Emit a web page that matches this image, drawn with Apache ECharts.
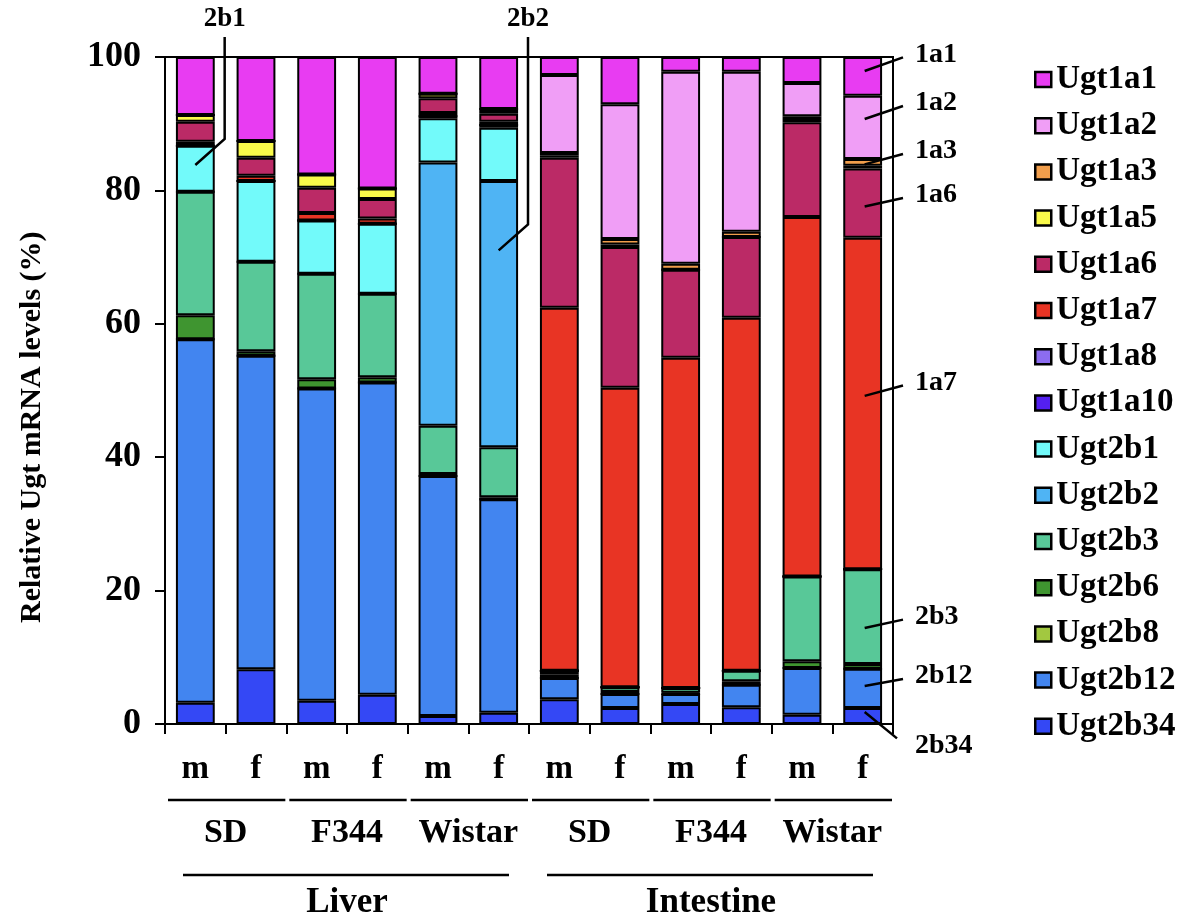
<!DOCTYPE html>
<html><head><meta charset="utf-8">
<script src="https://cdn.jsdelivr.net/npm/echarts@6/dist/echarts.min.js"></script>
<style>html,body{margin:0;padding:0;background:#fff}#c{width:1187px;height:920px}</style>
</head><body><div id="c"></div>
<script>
// ---- data ----
const sexLabels = ['m','f','m','f','m','f','m','f','m','f','m','f'];
const strainLabels = ['SD','F344','Wistar','SD','F344','Wistar'];
const tissueLabels = ['Liver','Intestine'];
const yAxisTitle = 'Relative Ugt mRNA levels (%)';
const yMin = 0, yMax = 100, yInterval = 20;

const ugt1a1  = [8.7, 12.6, 17.6, 19.7, 5.5, 7.8, 2.7, 7.1, 2.2, 2.2, 3.9, 5.8];
const ugt1a2  = [0, 0, 0, 0, 0, 0, 11.7, 20.2, 28.8, 24.0, 5.0, 9.5];
const ugt1a3  = [0, 0, 0, 0, 0, 0.3, 0.4, 0.8, 0.9, 0.8, 0.4, 1.0];
const ugt1a5  = [1.0, 2.5, 2.0, 1.6, 0.7, 0.4, 0.3, 0.4, 0, 0, 0.5, 0.4];
const ugt1a6  = [3.0, 2.7, 3.8, 2.9, 2.2, 1.2, 22.5, 21.1, 13.2, 12.1, 14.2, 10.4];
const ugt1a7  = [0.6, 0.8, 1.1, 0.8, 0.5, 0.5, 54.4, 44.9, 49.5, 52.9, 53.9, 49.7];
const ugt1a8  = [0, 0, 0, 0, 0, 0, 0, 0, 0, 0, 0, 0];
const ugt1a10 = [0, 0, 0, 0, 0.3, 0.4, 0, 0, 0, 0, 0, 0];
const ugt2b1  = [6.9, 12.1, 8.0, 10.5, 6.6, 8.0, 0, 0, 0, 0, 0, 0];
const ugt2b2  = [0, 0, 0, 0, 39.5, 39.9, 0, 0, 0, 0, 0, 0];
const ugt2b3  = [18.5, 13.4, 15.8, 12.5, 7.2, 7.5, 0.6, 0.7, 0.7, 1.6, 12.7, 14.2];
const ugt2b6  = [3.6, 0.7, 1.4, 0.8, 0.3, 0.3, 0.5, 0.3, 0.2, 0.5, 1.0, 0.7];
const ugt2b8  = [0, 0, 0, 0, 0, 0, 0, 0, 0, 0, 0, 0];
const ugt2b12 = [54.5, 47.0, 46.8, 46.8, 36.0, 32.0, 3.2, 2.1, 1.5, 3.4, 7.0, 5.9];
const ugt2b34 = [3.2, 8.2, 3.5, 4.4, 1.2, 1.7, 3.7, 2.4, 3.0, 2.5, 1.4, 2.4];

const seriesNames = ['Ugt1a1','Ugt1a2','Ugt1a3','Ugt1a5','Ugt1a6','Ugt1a7','Ugt1a8','Ugt1a10',
                     'Ugt2b1','Ugt2b2','Ugt2b3','Ugt2b6','Ugt2b8','Ugt2b12','Ugt2b34'];
const seriesValues = [ugt1a1, ugt1a2, ugt1a3, ugt1a5, ugt1a6, ugt1a7, ugt1a8, ugt1a10,
                      ugt2b1, ugt2b2, ugt2b3, ugt2b6, ugt2b8, ugt2b12, ugt2b34];

// annotation labels on the right: [text, anchor value in last bar, label value]
const rightLabels = [
  ['1a1', 97.9, 100.4], ['1a2', 90.7, 93.1], ['1a3', 83.9, 85.9], ['1a6', 77.6, 79.3],
  ['1a7', 49.2, 51.2], ['2b3', 14.4, 16.1], ['2b12', 5.7, 7.2]
];
const bottomRightLabel = ['2b34', 1.8, -3.2];
// top labels: [text, bar index, anchor value, elbow value]
const topLabels = [['2b1', 0, 83.8, 87.7], ['2b2', 5, 71.0, 74.9]];

// ---- style ----
const colors = {
  Ugt1a1:'#e83cf2', Ugt1a2:'#f09ef6', Ugt1a3:'#f19e4c', Ugt1a5:'#fafa4a', Ugt1a6:'#bb2a66',
  Ugt1a7:'#e83424', Ugt1a8:'#8c6cf0', Ugt1a10:'#5420f0', Ugt2b1:'#72fafa', Ugt2b2:'#4fb4f4',
  Ugt2b3:'#58c898', Ugt2b6:'#3f9530', Ugt2b8:'#a2c840', Ugt2b12:'#4285f0', Ugt2b34:'#3448f5'
};
const FONT = '"Liberation Serif","Times New Roman",serif';

const chart = echarts.init(document.getElementById('c'));

// stack from bottom: reverse legend order
const series = seriesNames.map((n, i) => ({
  name: n, type: 'bar', stack: 'all', barWidth: '64%',
  data: seriesValues[i],
  itemStyle: { color: colors[n], borderColor: '#000', borderWidth: 2 },
  emphasis: { disabled: true }
})).reverse();

chart.setOption({
  animation: false,
  grid: { left: 165, right: 294, top: 57, bottom: 196, show: true, borderColor: '#000', borderWidth: 2 },
  legend: {
    data: seriesNames, orient: 'vertical', left: 1029, top: 58, itemGap: 13.2,
    itemWidth: 16, itemHeight: 15, icon: 'rect', itemStyle: { borderWidth: 2.5 },
    textStyle: { fontFamily: FONT, fontWeight: 'bold', fontSize: 33, color: '#000' },
    selectedMode: false
  },
  xAxis: [
    { type: 'category', data: sexLabels, position: 'bottom',
      axisLine: { lineStyle: { color: '#000', width: 2 } },
      axisTick: { show: true, length: 10, interval: 0, alignWithLabel: false, lineStyle: { color: '#000', width: 2 } },
      axisLabel: { margin: 29, interval: 0, fontFamily: FONT, fontWeight: 'bold', fontSize: 33, color: '#000' } },
    { type: 'category', data: strainLabels, position: 'bottom', offset: 80, gridIndex: 0,
      axisLine: { show: false }, axisTick: { show: false },
      axisLabel: { margin: 12, interval: 0, fontFamily: FONT, fontWeight: 'bold', fontSize: 34, color: '#000' } },
    { type: 'category', data: tissueLabels, position: 'bottom', offset: 150, gridIndex: 0,
      axisLine: { show: false }, axisTick: { show: false },
      axisLabel: { margin: 11, interval: 0, fontFamily: FONT, fontWeight: 'bold', fontSize: 35, color: '#000' } }
  ],
  yAxis: {
    type: 'value', min: yMin, max: yMax, interval: yInterval,
    axisLine: { show: true, lineStyle: { color: '#000', width: 2 } },
    axisTick: { show: true, length: 10, lineStyle: { color: '#000', width: 2 } },
    splitLine: { show: false },
    axisLabel: { margin: 24, fontFamily: FONT, fontWeight: 'bold', fontSize: 36, color: '#000' }
  },
  series: series
});

// ---- annotations positioned via the chart's own scales ----
const p0 = chart.convertToPixel({ seriesIndex: 0 }, [0, 0]);
const p1 = chart.convertToPixel({ seriesIndex: 0 }, [1, 100]);
const cw = p1[0] - p0[0];
const left0 = p0[0] - cw / 2;
const yPix = v => p0[1] + (p1[1] - p0[1]) * v / 100;
const xC = i => p0[0] + cw * i;
const nBars = sexLabels.length;
const rightEdge = left0 + cw * nBars;

const lineStyle = { stroke: '#000', lineWidth: 2.5, fill: null };
const textEl = (t, x, y, align, size) => ({
  type: 'text', silent: true, z: 100,
  style: { text: t, x: x, y: y, fill: '#000', font: 'bold ' + size + 'px ' + FONT,
           align: align, verticalAlign: 'middle', textAlign: align, textVerticalAlign: 'middle' }
});
const g = [];
// y axis title
g.push({ type: 'text', silent: true, z: 100, x: 32, y: yPix(44.5), rotation: Math.PI / 2,
  style: { text: yAxisTitle, x: 0, y: 0, fill: '#000', font: 'bold 30px ' + FONT,
           align: 'center', verticalAlign: 'middle', textAlign: 'center', textVerticalAlign: 'middle' } });
// pair underlines
for (let k = 0; k < strainLabels.length; k++) {
  const a = left0 + cw * 2 * k + 3, b = left0 + cw * 2 * (k + 1) - 1;
  g.push({ type: 'line', silent: true, z: 100, shape: { x1: a, y1: 800, x2: b, y2: 800 }, style: { stroke: '#000', lineWidth: 2.5 } });
}
// tissue underlines
for (let k = 0; k < tissueLabels.length; k++) {
  const a = left0 + cw * 6 * k + 18, b = left0 + cw * 6 * (k + 1) - 20;
  g.push({ type: 'line', silent: true, z: 100, shape: { x1: a, y1: 875, x2: b, y2: 875 }, style: { stroke: '#000', lineWidth: 2.5 } });
}
// right labels
const lastX = xC(nBars - 1) + 2;
const endX = rightEdge + 10;
rightLabels.forEach(([t, av, lv]) => {
  g.push({ type: 'polyline', silent: true, z: 100, shape: { points: [[lastX, yPix(av)], [endX, yPix(lv) + 3]] }, style: lineStyle });
  g.push(textEl(t, rightEdge + 22, yPix(lv), 'left', 28));
});
{
  const [t, av, lv] = bottomRightLabel;
  g.push({ type: 'polyline', silent: true, z: 100, shape: { points: [[lastX, yPix(av)], [rightEdge + 4, yPix(lv) - 7]] }, style: lineStyle });
  g.push(textEl(t, rightEdge + 22, yPix(lv), 'left', 28));
}
// top labels
topLabels.forEach(([t, bi, av, ev]) => {
  const bx = left0 + cw * (bi + 1) - 1;
  g.push({ type: 'polyline', silent: true, z: 100,
    shape: { points: [[xC(bi), yPix(av)], [bx, yPix(ev)], [bx, yPix(103)]] }, style: lineStyle });
  g.push(textEl(t, bx, yPix(105.7), 'center', 27));
});
chart.setOption({ graphic: g });
</script>
</body></html>
